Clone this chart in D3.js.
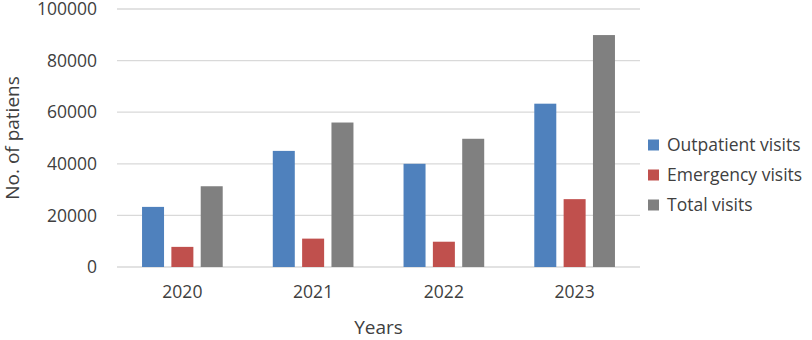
<!DOCTYPE html>
<html>
<head>
<meta charset="utf-8">
<script src="https://cdn.jsdelivr.net/npm/d3@7"></script>
<style>
  body { margin: 0; background: #fff; }
  text { font-family: "Open Sans", sans-serif; fill: #404040; }
</style>
</head>
<body>
<svg id="chart"></svg>
<script>
/* DATA */
const years = ["2020", "2021", "2022", "2023"];
const seriesNames = ["Outpatient visits", "Emergency visits", "Total visits"];
const outpatient = [23300, 45000, 40000, 63300];
const emergency = [7800, 11000, 9800, 26300];
const total = [31300, 56000, 49700, 89900];
const yTicks = [0, 20000, 40000, 60000, 80000, 100000];
const colors = ["#4f81bd", "#c0504d", "#808080"];

/* CONSTANTS */
const width = 812,
  height = 340,
  margin = { top: 9, bottom: 73, left: 117, right: 172 };

const rows = years.map((y, i) => ({
  year: y,
  values: [outpatient[i], emergency[i], total[i]]
}));

const svg = d3.select("#chart")
  .attr("width", width)
  .attr("height", height);

// + SCALES
const xScale = d3.scaleBand()
  .domain(years)
  .range([margin.left, width - margin.right])
  .paddingInner(0.383)
  .paddingOuter(0.1915);

const xInner = d3.scaleBand()
  .domain(d3.range(seriesNames.length))
  .range([0, xScale.bandwidth()])
  .paddingInner(0.25);

const yScale = d3.scaleLinear()
  .domain([0, 100000])
  .range([height - margin.bottom, margin.top]);

// gridlines
svg.append("g")
  .selectAll("line")
  .data(yTicks)
  .join("line")
  .attr("x1", margin.left)
  .attr("x2", width - margin.right)
  .attr("y1", d => yScale(d))
  .attr("y2", d => yScale(d))
  .attr("stroke", "#d9d9d9")
  .attr("stroke-width", 1.3);

// y axis labels
const yAxis = d3.axisLeft(yScale)
  .tickValues(yTicks)
  .tickFormat(d3.format("d"))
  .tickSize(0)
  .tickPadding(20);
svg.append("g")
  .attr("transform", `translate(${margin.left}, 0)`)
  .call(yAxis)
  .call(g => g.select(".domain").remove())
  .selectAll("text")
  .attr("font-size", 17.5)
  .attr("font-family", null)
  .attr("fill", "#404040");

// x axis labels
const xAxis = d3.axisBottom(xScale).tickSize(0).tickPadding(19);
svg.append("g")
  .attr("transform", `translate(0, ${height - margin.bottom})`)
  .call(xAxis)
  .call(g => g.select(".domain").remove())
  .selectAll("text")
  .attr("font-size", 17.5)
  .attr("font-family", null)
  .attr("fill", "#404040");

// bars
svg.append("g")
  .selectAll("g")
  .data(rows)
  .join("g")
  .attr("transform", d => `translate(${xScale(d.year)}, 0)`)
  .selectAll("rect")
  .data(d => d.values)
  .join("rect")
  .attr("x", (d, i) => xInner(i))
  .attr("width", xInner.bandwidth())
  .attr("y", d => yScale(d))
  .attr("height", d => yScale(0) - yScale(d))
  .attr("fill", (d, i) => colors[i]);

// axis titles
svg.append("text")
  .attr("x", (margin.left + width - margin.right) / 2)
  .attr("y", 334)
  .attr("text-anchor", "middle")
  .attr("font-size", 19)
  .text("Years");

svg.append("text")
  .attr("transform", `translate(19, ${(yScale(0) + yScale(100000)) / 2}) rotate(-90)`)
  .attr("text-anchor", "middle")
  .attr("font-size", 19)
  .text("No. of patiens");

// legend
const legend = svg.append("g")
  .selectAll("g")
  .data(seriesNames)
  .join("g")
  .attr("transform", (d, i) => `translate(648, ${145 + i * 30})`);

legend.append("rect")
  .attr("x", 0)
  .attr("y", -5.5)
  .attr("width", 11)
  .attr("height", 11)
  .attr("fill", (d, i) => colors[i]);

legend.append("text")
  .attr("x", 19)
  .attr("y", 0)
  .attr("dy", "0.35em")
  .attr("font-size", 17.5)
  .text(d => d);
</script>
</body>
</html>
